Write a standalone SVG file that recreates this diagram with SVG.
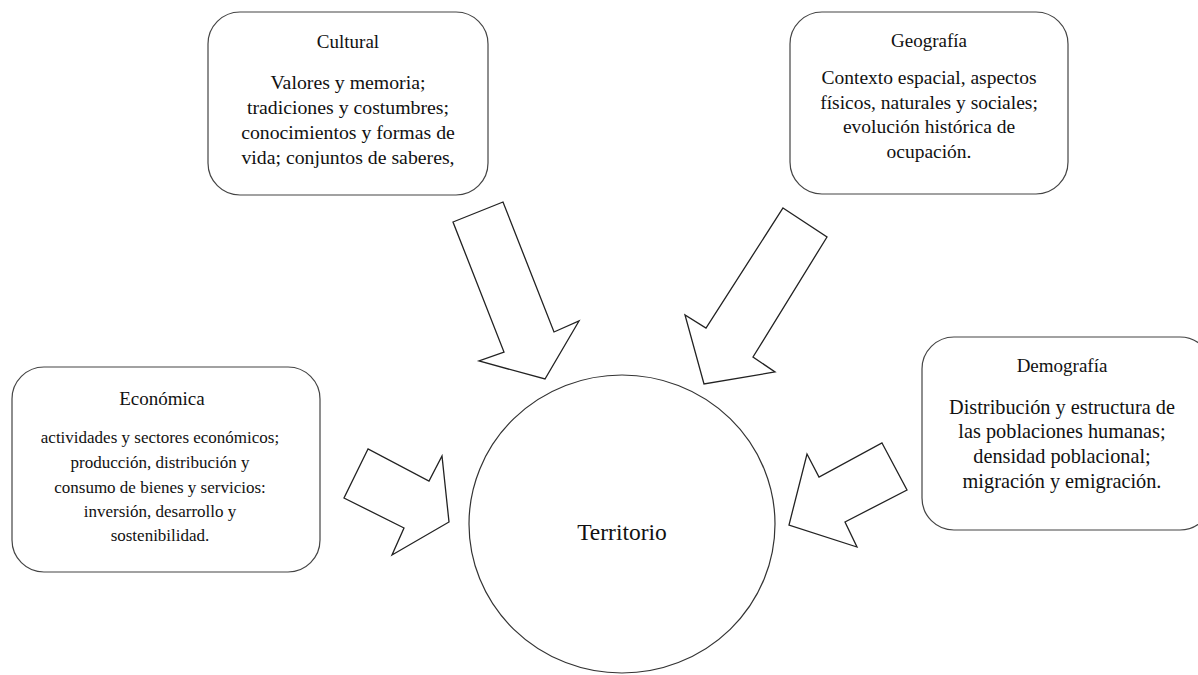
<svg xmlns="http://www.w3.org/2000/svg" width="1198" height="675" viewBox="0 0 1198 675">
<style>
.box{fill:#fff;stroke:#444;stroke-width:1.2}
.arrow{fill:#fff;stroke:#222;stroke-width:1.3;stroke-linejoin:miter}
text{font-family:"Liberation Serif","Times New Roman",serif;fill:#111;text-anchor:middle}
.t{font-size:19px}
</style>
<rect width="1198" height="675" fill="#fff"/>
<g id="connectors">
<polygon class="arrow" points="453,222 503,202 554,332 579,321 545,379 479,361 504,352"/>
<polygon class="arrow" points="783,208 827,237 753,357 775,372 704,384 685,315 706,328"/>
<polygon class="arrow" points="368,449 344,498 404,528 392,555 449,522 442,456 429,481"/>
<polygon class="arrow" points="882,443 907,490 845,522 857,547 789,525 807,454 819,477"/>
</g>
<g id="territorio">
<ellipse cx="622" cy="524" rx="153" ry="149" fill="#fff" stroke="#333" stroke-width="1.2"/>
<text x="622" y="540" font-size="23.5">Territorio</text>
</g>
<g id="cultural">
<rect class="box" x="208" y="12" width="280" height="183" rx="32"/>
<text class="t" x="348" y="48">Cultural</text>
<text x="348" y="89" font-size="19.8">Valores y memoria;</text>
<text x="348" y="114" font-size="19.8">tradiciones y costumbres;</text>
<text x="348" y="139" font-size="19.8">conocimientos y formas de</text>
<text x="348" y="164" font-size="19.8">vida; conjuntos de saberes,</text>
</g>
<g id="geografia">
<rect class="box" x="790" y="12" width="278" height="182" rx="32"/>
<text class="t" x="929" y="47">Geografía</text>
<text x="929" y="84" font-size="19.5">Contexto espacial, aspectos</text>
<text x="929" y="109" font-size="19.5">físicos, naturales y sociales;</text>
<text x="929" y="133" font-size="19.5">evolución histórica de</text>
<text x="929" y="158" font-size="19.5">ocupación.</text>
</g>
<g id="economica">
<rect class="box" x="12" y="367" width="308" height="205" rx="32"/>
<text class="t" x="162" y="405">Económica</text>
<text x="160" y="443" font-size="17">actividades y sectores económicos;</text>
<text x="160" y="468" font-size="17">producción, distribución y</text>
<text x="160" y="493" font-size="17">consumo de bienes y servicios:</text>
<text x="160" y="517" font-size="17">inversión, desarrollo y</text>
<text x="160" y="541" font-size="17">sostenibilidad.</text>
</g>
<g id="demografia">
<rect class="box" x="922" y="337" width="290" height="193" rx="32"/>
<text class="t" x="1062" y="372">Demografía</text>
<text x="1062" y="414" font-size="20.3">Distribución y estructura de</text>
<text x="1062" y="438" font-size="20.3">las poblaciones humanas;</text>
<text x="1062" y="463" font-size="20.3">densidad poblacional;</text>
<text x="1062" y="488" font-size="20.3">migración y emigración.</text>
</g>
</svg>
